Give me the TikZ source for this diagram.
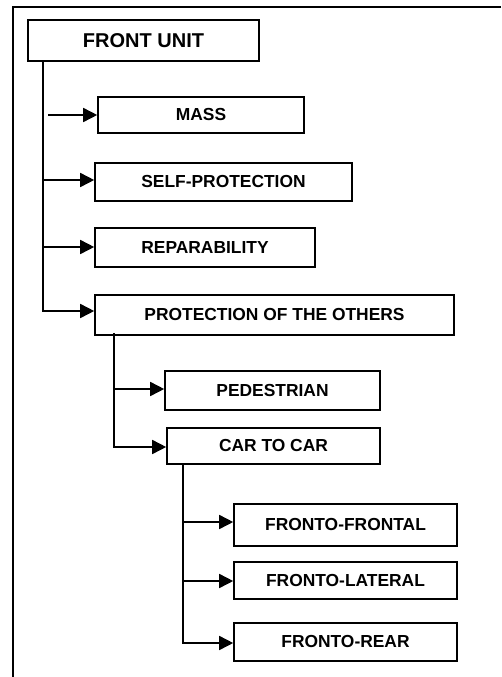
\documentclass[tikz,border=0pt]{standalone}
\usepackage{fontspec}
\setmainfont{Liberation Sans}
\usetikzlibrary{arrows.meta}
\begin{document}
\begin{tikzpicture}[x=1pt,y=-1pt,
  box/.style={draw,line width=1.6pt,inner sep=0pt,anchor=center,
    font=\bfseries\fontsize{17.4}{20}\selectfont},
  conn/.style={line width=1.6pt},
  arr/.style={conn,-{Triangle[length=14pt,width=14pt]}}]
\useasboundingbox (0,0) rectangle (501,677);
% frame
\coordinate (fr1) at (501,7);
\coordinate (fr2) at (13,7);
\coordinate (fr3) at (13,677);
\draw[line width=1.8pt] (fr1) -- (fr2) -- (fr3);
% boxes
\node[box,minimum width=231,minimum height=41,font=\bfseries\fontsize{20}{22}\selectfont] (front) at (143.5,40.5) {FRONT UNIT};
\node[box,minimum width=206,minimum height=36] (mass) at (201,115) {MASS};
\node[box,minimum width=257,minimum height=38] (selfp) at (223.5,182) {SELF-PROTECTION};
\node[box,minimum width=220,minimum height=39] (repar) at (205,247.5) {REPARABILITY};
\node[box,minimum width=359,minimum height=40] (prot) at (274.5,315) {PROTECTION OF THE OTHERS};
\node[box,minimum width=215,minimum height=39] (ped) at (272.5,390.5) {PEDESTRIAN};
\node[box,minimum width=213,minimum height=36] (car) at (273.5,446) {CAR TO CAR};
\node[box,minimum width=223,minimum height=42] (ff) at (345.5,525) {FRONTO-FRONTAL};
\node[box,minimum width=223,minimum height=37] (fl) at (345.5,580.5) {FRONTO-LATERAL};
\node[box,minimum width=223,minimum height=38] (frr) at (345.5,642) {FRONTO-REAR};
% trunk 1
\coordinate (t1s) at (43,61);
\coordinate (a1) at (48,115);
\coordinate (a2) at (43,180);
\coordinate (a3) at (43,247);
\coordinate (a4) at (43,311);
\draw[arr] (t1s) -- (a4) -- (prot.west |- a4);
\draw[arr] (a1) -- (mass.west |- a1);
\draw[arr] (a2) -- (selfp.west |- a2);
\draw[arr] (a3) -- (repar.west |- a3);
% trunk 2
\coordinate (t2s) at (114,333);
\coordinate (b1) at (114,389);
\coordinate (b2) at (114,447);
\draw[arr] (t2s) -- (b2) -- (car.west |- b2);
\draw[arr] (b1) -- (ped.west |- b1);
% trunk 3
\coordinate (t3s) at (183,464);
\coordinate (c1) at (183,522);
\coordinate (c2) at (183,581);
\coordinate (c3) at (183,643);
\draw[arr] (t3s) -- (c3) -- (frr.west |- c3);
\draw[arr] (c1) -- (ff.west |- c1);
\draw[arr] (c2) -- (fl.west |- c2);
\end{tikzpicture}
\end{document}
